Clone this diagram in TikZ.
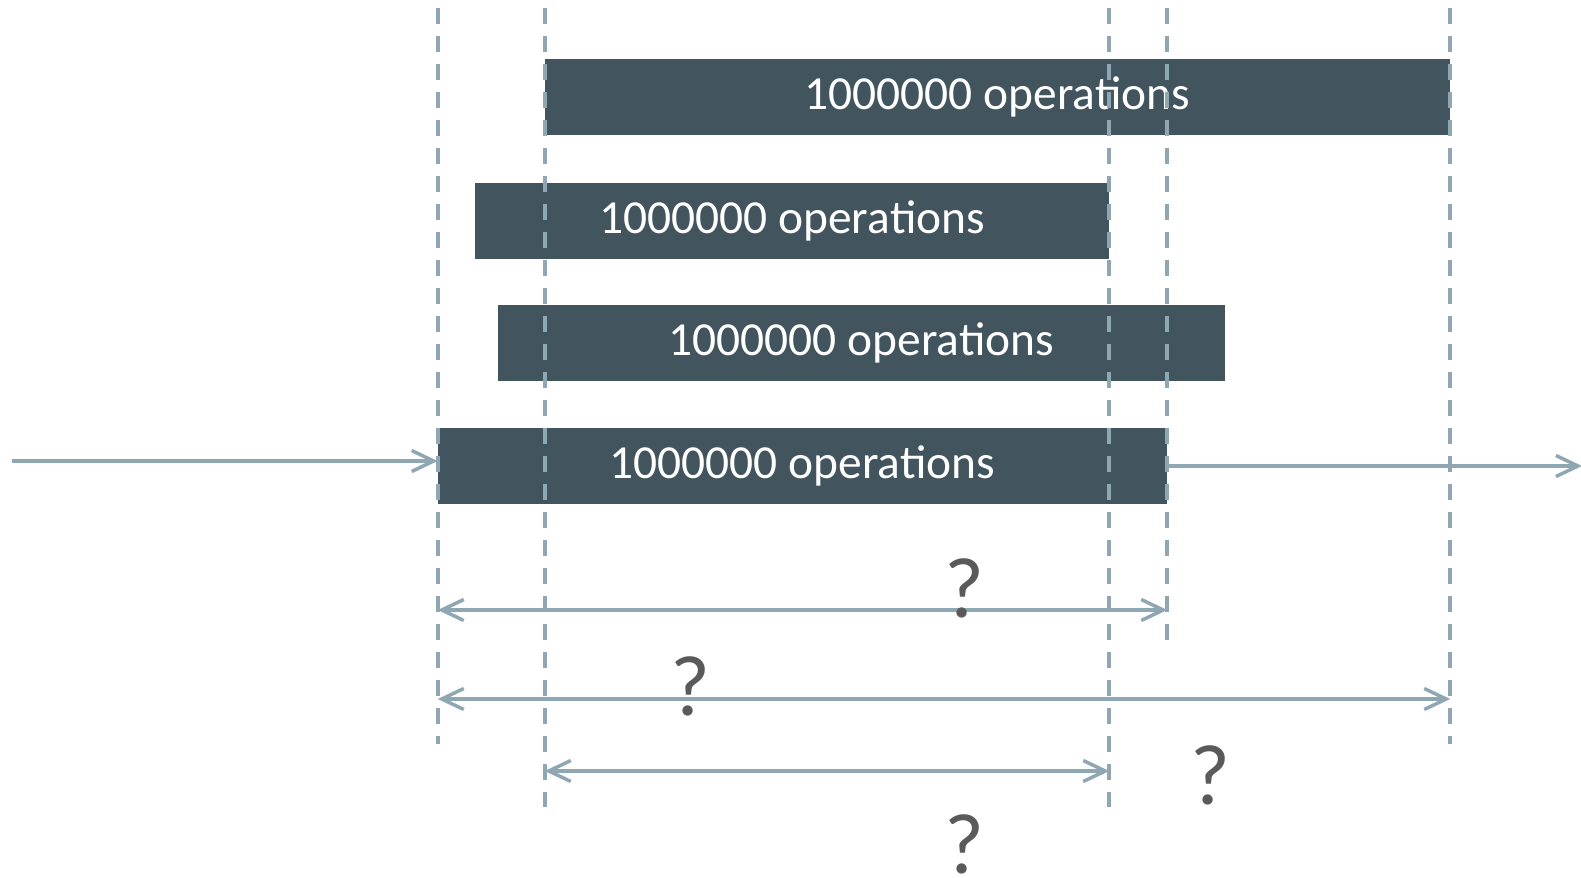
\documentclass[tikz,border=0pt]{standalone}
\usepackage{fontspec}
\setmainfont{Carlito}
\usetikzlibrary{arrows.meta}
\definecolor{barfill}{HTML}{42545E}
\definecolor{guide}{HTML}{8FA7B3}
\definecolor{askgray}{HTML}{5A5A5A}
% keep t and i apart
\newcommand{\opcount}{1000000 opera\kern0pt tions}
\begin{document}
\begin{tikzpicture}[
            x=0.02cm, y=-0.02cm,
            opbar/.style={fill=barfill, text=white, inner sep=0pt, minimum height=1.53cm,
                font=\fontsize{27}{32}\selectfont},
            guideline/.style={draw=guide, line width=0.085cm, dash pattern=on 0.32cm off 0.24cm},
            span/.style={draw=guide, line width=0.07cm, {Straight Barb[length=0.44cm, width=0.42cm]}-{Straight Barb[length=0.44cm, width=0.42cm]}},
            flow/.style={draw=guide, line width=0.07cm, -{Straight Barb[length=0.44cm, width=0.42cm]}},
            ask/.style={text=askgray, inner sep=0pt, font=\fontsize{49}{58}\selectfont}
            ]
            \useasboundingbox (0,0) rectangle (1581,878);
            % the four runs
            \node[opbar, minimum width=18.10cm] (op1) at (997.5,96.75) {\opcount};
            \node[opbar, minimum width=12.68cm] (op2) at (792,220.75) {\opcount};
            \node[opbar, minimum width=14.54cm] (op3) at (861.5,342.75) {\opcount};
            \node[opbar, minimum width=14.58cm] (op4) at (802.5,465.75) {\opcount};
            % guides
            \coordinate (top) at (0,8);
            \draw[guideline] (op4.west |- top) -- ++(0,736);
            \draw[guideline] (op1.west |- top) -- ++(0,799);
            \draw[guideline] (op2.east |- top) -- ++(0,799);
            \draw[guideline] (op4.east |- top) -- ++(0,632);
            \draw[guideline] (op1.east |- top) -- ++(0,736);
            % in and out
            \coordinate (start) at (12,461);
            \coordinate (finish) at (1582,466);
            \draw[flow] (start) -- (start -| op4.west);
            \draw[flow] (op4.east |- finish) -- (finish);
            % spans
            \coordinate (rowa) at (0,610);
            \coordinate (rowb) at (0,699);
            \coordinate (rowc) at (0,771);
            \draw[span] (op4.west |- rowa) -- (op4.east |- rowa);
            \draw[span] (op4.west |- rowb) -- (op1.east |- rowb);
            \draw[span] (op1.west |- rowc) -- (op2.east |- rowc);
            \node[ask] (q1) at (964,588) {?};
            \node[ask] (q2) at (690,686) {?};
            \node[ask] (q3) at (1210,775) {?};
            \node[ask] (q4) at (964,844) {?};
\end{tikzpicture}
\end{document}
